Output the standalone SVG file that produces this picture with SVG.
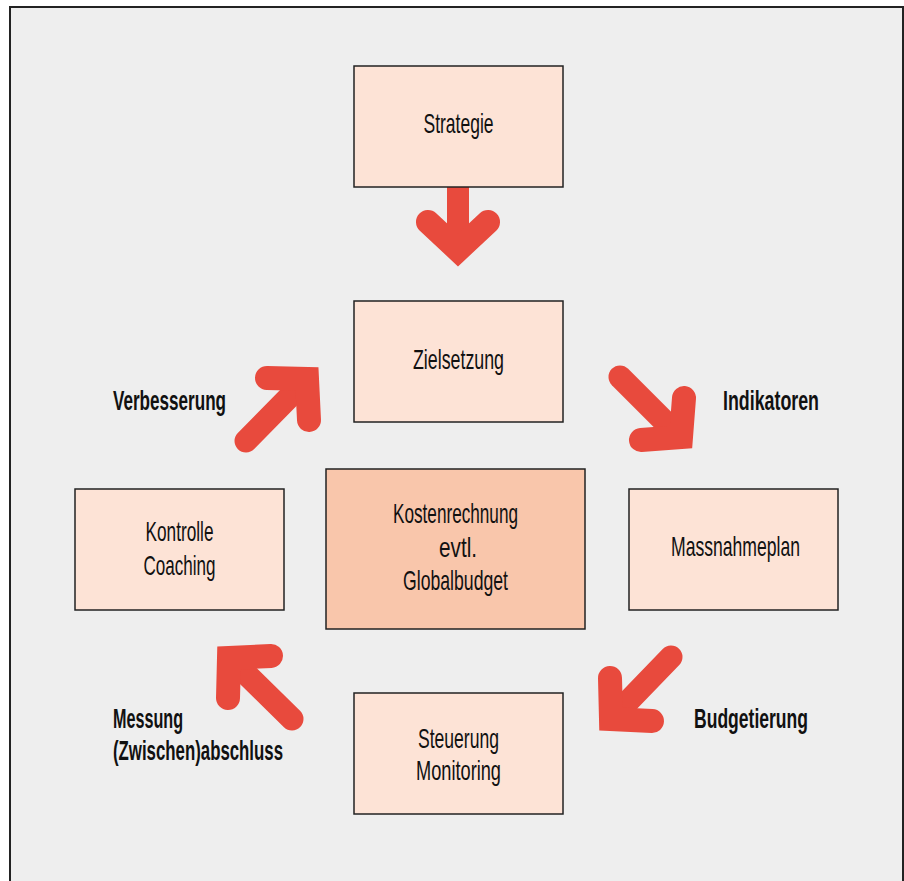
<svg xmlns="http://www.w3.org/2000/svg" width="904" height="881" viewBox="0 0 904 881">
<style>
.node{fill:#FDE3D6;stroke:#222;stroke-width:1.5}
.center{fill:#F9C6AB;stroke:#222;stroke-width:1.5}
.t{font-family:"Liberation Sans",Arial,sans-serif;font-size:28px;fill:#111;text-anchor:middle}
.b{font-family:"Liberation Sans",Arial,sans-serif;font-size:28px;font-weight:bold;fill:#111}
.shaft{fill:none;stroke:#E84A3D;stroke-width:23;stroke-linecap:round}
.head{fill:none;stroke:#E84A3D;stroke-width:24;stroke-linecap:round;stroke-linejoin:miter;stroke-miterlimit:4}
</style>
<rect x="0" y="0" width="904" height="881" fill="#ffffff"/>
<rect x="10" y="7" width="893" height="890" fill="#EEEEEE" stroke="#222" stroke-width="2"/>
<g id="connectors">
<line x1="458" y1="187" x2="458" y2="245" stroke="#E84A3D" stroke-width="22"/>
<polyline class="head" points="428,222 458,250 488,222"/>
<line class="shaft" x1="620" y1="377" x2="676" y2="433"/>
<polyline class="head" points="684,398 681,437 641,440"/>
<line class="shaft" x1="671" y1="657" x2="615" y2="715"/>
<polyline class="head" points="610,678 611,719 652,721"/>
<line class="shaft" x1="292" y1="719" x2="233" y2="661"/>
<polyline class="head" points="271,656 229,658 228,698"/>
<line class="shaft" x1="246" y1="441" x2="303" y2="383"/>
<polyline class="head" points="267,378 307,379 309,420"/>
</g>
<g id="strategie"><rect class="node" x="354" y="66" width="209" height="121"/><text class="t" x="458.5" y="133" textLength="70" lengthAdjust="spacingAndGlyphs">Strategie</text></g>
<g id="zielsetzung"><rect class="node" x="354" y="301" width="209" height="121"/><text class="t" x="458.5" y="369" textLength="91" lengthAdjust="spacingAndGlyphs">Zielsetzung</text></g>
<g id="kontrolle"><rect class="node" x="75" y="489" width="209" height="121"/><text class="t" x="179.5" y="541" textLength="68" lengthAdjust="spacingAndGlyphs">Kontrolle</text><text class="t" x="179.5" y="575" textLength="72" lengthAdjust="spacingAndGlyphs">Coaching</text></g>
<g id="kostenrechnung"><rect class="center" x="326" y="469" width="259" height="160"/><text class="t" x="455.5" y="523" textLength="125" lengthAdjust="spacingAndGlyphs">Kostenrechnung</text><text class="t" x="458" y="557" textLength="38" lengthAdjust="spacingAndGlyphs">evtl.</text><text class="t" x="455.5" y="590" textLength="105" lengthAdjust="spacingAndGlyphs">Globalbudget</text></g>
<g id="massnahmeplan"><rect class="node" x="629" y="489" width="209" height="121"/><text class="t" x="735.5" y="556" textLength="129" lengthAdjust="spacingAndGlyphs">Massnahmeplan</text></g>
<g id="steuerung"><rect class="node" x="354" y="693" width="209" height="121"/><text class="t" x="458.5" y="748" textLength="81" lengthAdjust="spacingAndGlyphs">Steuerung</text><text class="t" x="458.5" y="780" textLength="85" lengthAdjust="spacingAndGlyphs">Monitoring</text></g>
<g id="labels">
<text class="b" x="113" y="410" textLength="113" lengthAdjust="spacingAndGlyphs">Verbesserung</text>
<text class="b" x="723" y="410" textLength="96" lengthAdjust="spacingAndGlyphs">Indikatoren</text>
<text class="b" x="694" y="728" textLength="114" lengthAdjust="spacingAndGlyphs">Budgetierung</text>
<text class="b" x="113" y="728" textLength="70" lengthAdjust="spacingAndGlyphs">Messung</text>
<text class="b" x="113" y="760" textLength="170" lengthAdjust="spacingAndGlyphs">(Zwischen)abschluss</text>
</g>
</svg>
